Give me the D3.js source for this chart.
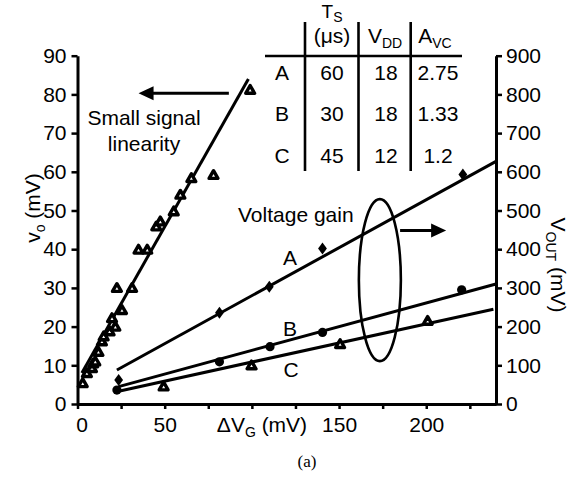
<!DOCTYPE html>
<html>
<head>
<meta charset="utf-8">
<script src="https://cdn.jsdelivr.net/npm/d3@7"></script>
<style>
body { margin: 0; background: #fff; }
text { font-family: "Liberation Sans", Arial, sans-serif; fill: #000; }
</style>
</head>
<body>
<svg id="chart" width="581" height="481"></svg>
<script>
// small signal linearity: dVG (mV) vs vo (mV), left axis
const linX = [3, 5.4, 8.3, 9, 10.2, 12, 14, 15, 18.4, 19.8, 21.7, 22.6, 25.5, 31.3, 35, 40, 45.2, 47.5, 55.2, 59, 65.3, 78, 99];
const linY = [4.9, 7.5, 8.8, 10, 10.5, 13, 15.7, 17, 18.3, 21.7, 19.5, 29.5, 23.8, 29.5, 39.4, 39.4, 45.4, 46.7, 49.3, 53.6, 57.9, 58.7, 80.7];
const linFitX = [2.5, 98];
const linFitY = [8, 84];

// voltage gain: dVG (mV) vs VOUT (mV), right axis
const gainAX = [23.6, 81.4, 110, 140.5, 221];
const gainAY = [62, 236, 303, 402, 593];
const gainBX = [22.6, 81.4, 110.4, 140.5, 220.3];
const gainBY = [36, 109, 148, 185, 295];
const gainCX = [49.4, 99.8, 150.6, 200.8];
const gainCY = [40.5, 95, 150, 210];
const fitAX = [22.6, 240], fitAY = [88, 627];
const fitBX = [23.6, 240], fitBY = [45, 310];
const fitCX = [23.6, 238.5], fitCY = [33, 245];

// table
const tableRows = ["A", "B", "C"];
const tableTs = ["60", "30", "45"];
const tableVdd = ["18", "18", "12"];
const tableAvc = ["2.75", "1.33", "1.2"];

const xTicks = [0, 25, 50, 75, 100, 125, 150, 175, 200, 225];
const xLabels = [0, 50, 150, 200];

var svg = d3.select("#chart");
var fs = 21;

var x = d3.scaleLinear().domain([0, 240]).range([77.5, 496]);
var yL = d3.scaleLinear().domain([0, 90]).range([404, 55.7]);
var yR = d3.scaleLinear().domain([0, 900]).range([404, 55.7]);

// axes
var axL = svg.append("g").attr("transform", "translate(" + x(0) + ",0)")
  .call(d3.axisLeft(yL).tickValues(d3.range(0, 91, 10)).tickSize(6).tickSizeOuter(0).tickPadding(5));
var axR = svg.append("g").attr("transform", "translate(" + x(240) + ",0)")
  .call(d3.axisRight(yR).tickValues(d3.range(0, 901, 100)).tickSize(6).tickSizeOuter(0).tickPadding(4));
var axB = svg.append("g").attr("transform", "translate(0," + yL(0) + ")")
  .call(d3.axisBottom(x).tickValues(xTicks).tickSize(5).tickSizeOuter(0).tickPadding(8)
    .tickFormat(d => xLabels.includes(d) ? d : ""));

[axL, axR, axB].forEach(function(a) {
  a.select(".domain").attr("stroke-width", 3);
  a.selectAll(".tick line").attr("stroke-width", 2.5);
  a.selectAll(".tick text").style("font-size", fs + "px")
    .style("font-family", '"Liberation Sans", Arial, sans-serif');
});
axB.selectAll(".tick text").filter(d => d === 0).attr("dx", 4);

// axis titles
var tl = svg.append("text").attr("transform", "translate(40,208) rotate(-90)")
  .attr("text-anchor", "middle").style("font-size", fs + "px");
tl.append("tspan").text("v");
tl.append("tspan").text("o").style("font-size", "14px").attr("dy", 5);
tl.append("tspan").text(" (mV)").attr("dy", -5);

var tr = svg.append("text").attr("transform", "translate(551,265) rotate(90)")
  .attr("text-anchor", "middle").style("font-size", fs + "px");
tr.append("tspan").text("V");
tr.append("tspan").text("OUT").style("font-size", "14px").attr("dy", 5);
tr.append("tspan").text(" (mV)").attr("dy", -5);

var tb = svg.append("text").attr("x", 262).attr("y", 432)
  .attr("text-anchor", "middle").style("font-size", fs + "px");
tb.append("tspan").text("\u0394V");
tb.append("tspan").text("G").style("font-size", "14px").attr("dy", 5);
tb.append("tspan").text(" (mV)").attr("dy", -5);

svg.append("text").attr("x", 307).attr("y", 467).attr("text-anchor", "middle")
  .style("font-family", '"Liberation Serif", "Times New Roman", serif').style("font-size", "17px")
  .text("(a)");

// fit lines
function fitLine(xs, ys, yScale) {
  svg.append("line")
    .attr("x1", x(xs[0])).attr("y1", yScale(ys[0]))
    .attr("x2", x(xs[1])).attr("y2", yScale(ys[1]))
    .attr("stroke", "black").attr("stroke-width", 3);
}
fitLine(linFitX, linFitY, yL);
fitLine(fitAX, fitAY, yR);
fitLine(fitBX, fitBY, yR);
fitLine(fitCX, fitCY, yR);

// markers
var tri = d3.symbol().type(d3.symbolTriangle).size(34);
function triangles(xs, ys, yScale) {
  svg.append("g").selectAll("path").data(xs).enter().append("path")
    .attr("d", tri)
    .attr("transform", (d, i) => "translate(" + x(d) + "," + (yScale(ys[i]) - 1) + ")")
    .attr("fill", "white").attr("stroke", "black").attr("stroke-width", 3.4)
    .attr("stroke-linejoin", "round");
}
triangles(linX, linY, yL);
triangles(gainCX, gainCY, yR);

svg.append("g").selectAll("path").data(gainAX).enter().append("path")
  .attr("d", "M0,-6L4.4,0L0,6L-4.4,0Z")
  .attr("transform", (d, i) => "translate(" + x(d) + "," + yR(gainAY[i]) + ")")
  .attr("fill", "black");

svg.append("g").selectAll("circle").data(gainBX).enter().append("circle")
  .attr("cx", d => x(d)).attr("cy", (d, i) => yR(gainBY[i])).attr("r", 4.6)
  .attr("fill", "black");

// annotations
function label(t, px, py, anchor) {
  svg.append("text").attr("x", px).attr("y", py).attr("text-anchor", anchor || "middle")
    .style("font-size", fs + "px").text(t);
}
label("Small signal", 144, 125);
label("linearity", 144, 151);
label("Voltage gain", 238, 222, "start");
label("A", 290, 265);
label("B", 290, 336);
label("C", 291, 377);

function arrow(x1, x2, py) {
  var dir = x2 > x1 ? 1 : -1;
  svg.append("line").attr("x1", x1).attr("y1", py).attr("x2", x2 - dir * 12).attr("y2", py)
    .attr("stroke", "black").attr("stroke-width", 3);
  svg.append("path")
    .attr("d", "M" + x2 + "," + py + "L" + (x2 - dir * 15) + "," + (py - 7) + "L" + (x2 - dir * 15) + "," + (py + 7) + "Z")
    .attr("fill", "black");
}
arrow(x(86.8), x(35), yL(80.3));
arrow(x(185), x(211.4), yR(448));

svg.append("ellipse").attr("cx", x(173.4)).attr("cy", yR(320))
  .attr("rx", 21).attr("ry", 81)
  .attr("fill", "none").attr("stroke", "black").attr("stroke-width", 2.6);

// table
var colX = [282, 332, 386, 438];
var rowY = [80, 121, 163];
var tg = svg.append("g");
tg.selectAll("line.v").data([305, 358.5, 410.7]).enter().append("line")
  .attr("x1", d => d).attr("x2", d => d).attr("y1", 22).attr("y2", 171)
  .attr("stroke", "black").attr("stroke-width", 2.6);
tg.append("line").attr("x1", 265).attr("x2", 462).attr("y1", 56).attr("y2", 56)
  .attr("stroke", "black").attr("stroke-width", 2.6);

var h1 = tg.append("text").attr("x", colX[1]).attr("y", 18).attr("text-anchor", "middle").style("font-size", "19px");
h1.append("tspan").text("T");
h1.append("tspan").text("S").style("font-size", "14px").attr("dy", 4);
tg.append("text").attr("x", colX[1]).attr("y", 43).attr("text-anchor", "middle")
  .style("font-size", fs + "px").text("(\u03bcs)");
var h2 = tg.append("text").attr("x", colX[2] - 1).attr("y", 43).attr("text-anchor", "middle").style("font-size", fs + "px");
h2.append("tspan").text("V");
h2.append("tspan").text("DD").style("font-size", "14px").attr("dy", 5);
var h3 = tg.append("text").attr("x", colX[3] - 3).attr("y", 43).attr("text-anchor", "middle").style("font-size", fs + "px");
h3.append("tspan").text("A");
h3.append("tspan").text("VC").style("font-size", "14px").attr("dy", 5);

[tableRows, tableTs, tableVdd, tableAvc].forEach(function(col, c) {
  tg.selectAll(null).data(col).enter().append("text")
    .attr("x", colX[c]).attr("y", (d, i) => rowY[i])
    .attr("text-anchor", "middle").style("font-size", fs + "px")
    .text(d => d);
});
</script>
</body>
</html>
